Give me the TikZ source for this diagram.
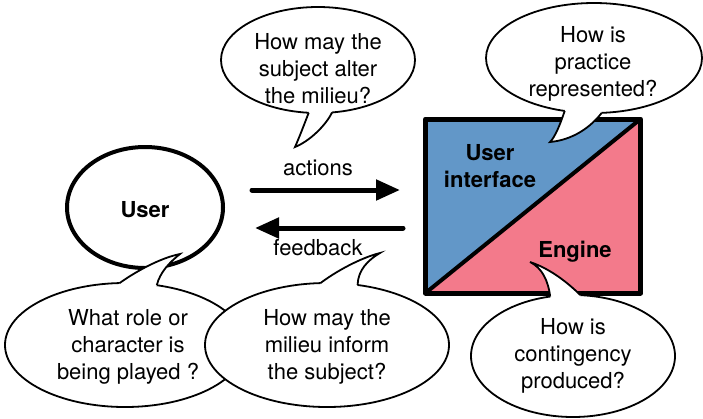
\documentclass[tikz,border=0pt]{standalone}
\usepackage{fontspec}
\setmainfont{TeX Gyre Heros}
\usetikzlibrary{shapes.geometric,arrows.meta}
\definecolor{uiblue}{RGB}{98,151,200}
\definecolor{enginepink}{RGB}{243,122,139}
\tikzset{
  bubble/.style={ellipse, draw=black, fill=white, line width=1.8pt, inner sep=0pt, outer sep=0pt},
  tailside/.style={draw=black, line width=1.8pt},
  qtext/.style={align=center, font=\fontsize{22}{27}\selectfont},
  btext/.style={align=center, font=\fontsize{22}{27}\selectfont\bfseries},
  flow/.style={line width=5pt, line cap=round, -{Triangle[length=24pt,width=20pt]}}
}
\begin{document}
\begin{tikzpicture}[x=1pt, y=-1pt]
\useasboundingbox (0,0) rectangle (703,418);

% system square split into interface and engine halves
\coordinate (sqTL) at (425.5,119);
\coordinate (sqTR) at (640.5,119);
\coordinate (sqBR) at (640.5,293);
\coordinate (sqBL) at (425.5,293);
\fill[uiblue] (sqBL) -- (sqTL) -- (sqTR) -- cycle;
\fill[enginepink] (sqBL) -- (sqTR) -- (sqBR) -- cycle;
\draw[line width=4pt] (sqBL) -- (sqTR);
\draw[line width=5pt, line join=round] (sqTL) -- (sqTR) -- (sqBR) -- (sqBL) -- cycle;

% user
\node[ellipse, draw, line width=4pt, minimum width=156pt, minimum height=121pt, inner sep=0pt] (user) at (145,207.5) {};

% flows between user and system
\coordinate (actS) at (252,190);
\coordinate (actE) at (400,190);
\coordinate (fbS) at (403,228);
\coordinate (fbE) at (255,228);
\draw[flow] (actS) -- (actE);
\draw[flow] (fbS) -- (fbE);

% bubble: subject alters milieu
\node[bubble, minimum width=194pt, minimum height=106pt] (qa) at (318,60) {};
\fill[white] (qa.-100) .. controls (304,125) and (299,138) .. (295,147)
  .. controls (310,141) and (326,125) .. (qa.-75) -- (qa.center) -- cycle;
\path[tailside] (qa.-100) .. controls (304,125) and (299,138) .. (295,147)
  .. controls (310,141) and (326,125) .. (qa.-75);

% bubble: practice represented
\node[bubble, minimum width=216pt, minimum height=110pt] (qb) at (594,58) {};
\fill[white] (qb.-119) .. controls (560,125) and (555,137) .. (550,142)
  .. controls (572,140) and (590,128) .. (qb.-82) -- (qb.center) -- cycle;
\path[tailside] (qb.-119) .. controls (560,125) and (555,137) .. (550,142)
  .. controls (572,140) and (590,128) .. (qb.-82);

% bubble: role or character
\node[bubble, minimum width=240pt, minimum height=124pt] (qc) at (125,345) {};
\fill[white] (qc.95) .. controls (135,272) and (160,258) .. (180,254)
  .. controls (170,262) and (160,272) .. (qc.62) -- (qc.center) -- cycle;
\path[tailside] (qc.95) .. controls (135,272) and (160,258) .. (180,254)
  .. controls (170,262) and (160,272) .. (qc.62);

% bubble: milieu informs subject
\node[bubble, minimum width=244pt, minimum height=124pt] (qd) at (327,345) {};
\fill[white] (qd.96) .. controls (335,272) and (360,258) .. (380,253)
  .. controls (368,260) and (358,270) .. (qd.63) -- (qd.center) -- cycle;
\path[tailside] (qd.96) .. controls (335,272) and (360,258) .. (380,253)
  .. controls (368,260) and (358,270) .. (qd.63);

% bubble: contingency
\node[bubble, minimum width=204pt, minimum height=122pt] (qe) at (573,356) {};
\fill[white] (qe.111) .. controls (548,280) and (542,268) .. (530,262)
  .. controls (548,268) and (565,280) .. (qe.83) -- (qe.center) -- cycle;
\path[tailside] (qe.111) .. controls (548,280) and (542,268) .. (530,262)
  .. controls (548,268) and (565,280) .. (qe.83);

% labels
\node[btext] (userlbl) at (145,210) {User};
\node[btext] (uilbl) at (490,166) {User\\interface};
\node[btext] (enginelbl) at (575,252) {Engine};
\node[qtext] (actlbl) at (318,168) {actions};
\node[qtext] (fblbl) at (318,248) {feedback};
\node[qtext] (qatext) at (318,69) {How may the\\subject alter\\the milieu?};
\node[qtext] (qbtext) at (593,64) {How is\\practice\\represented?};
\node[qtext] (qctext) at (128,347) {What role or\\character is\\being played ?};
\node[qtext] (qdtext) at (327,347) {How may the\\milieu inform\\the subject?};
\node[qtext] (qetext) at (573,356) {How is\\contingency\\produced?};
\end{tikzpicture}
\end{document}
